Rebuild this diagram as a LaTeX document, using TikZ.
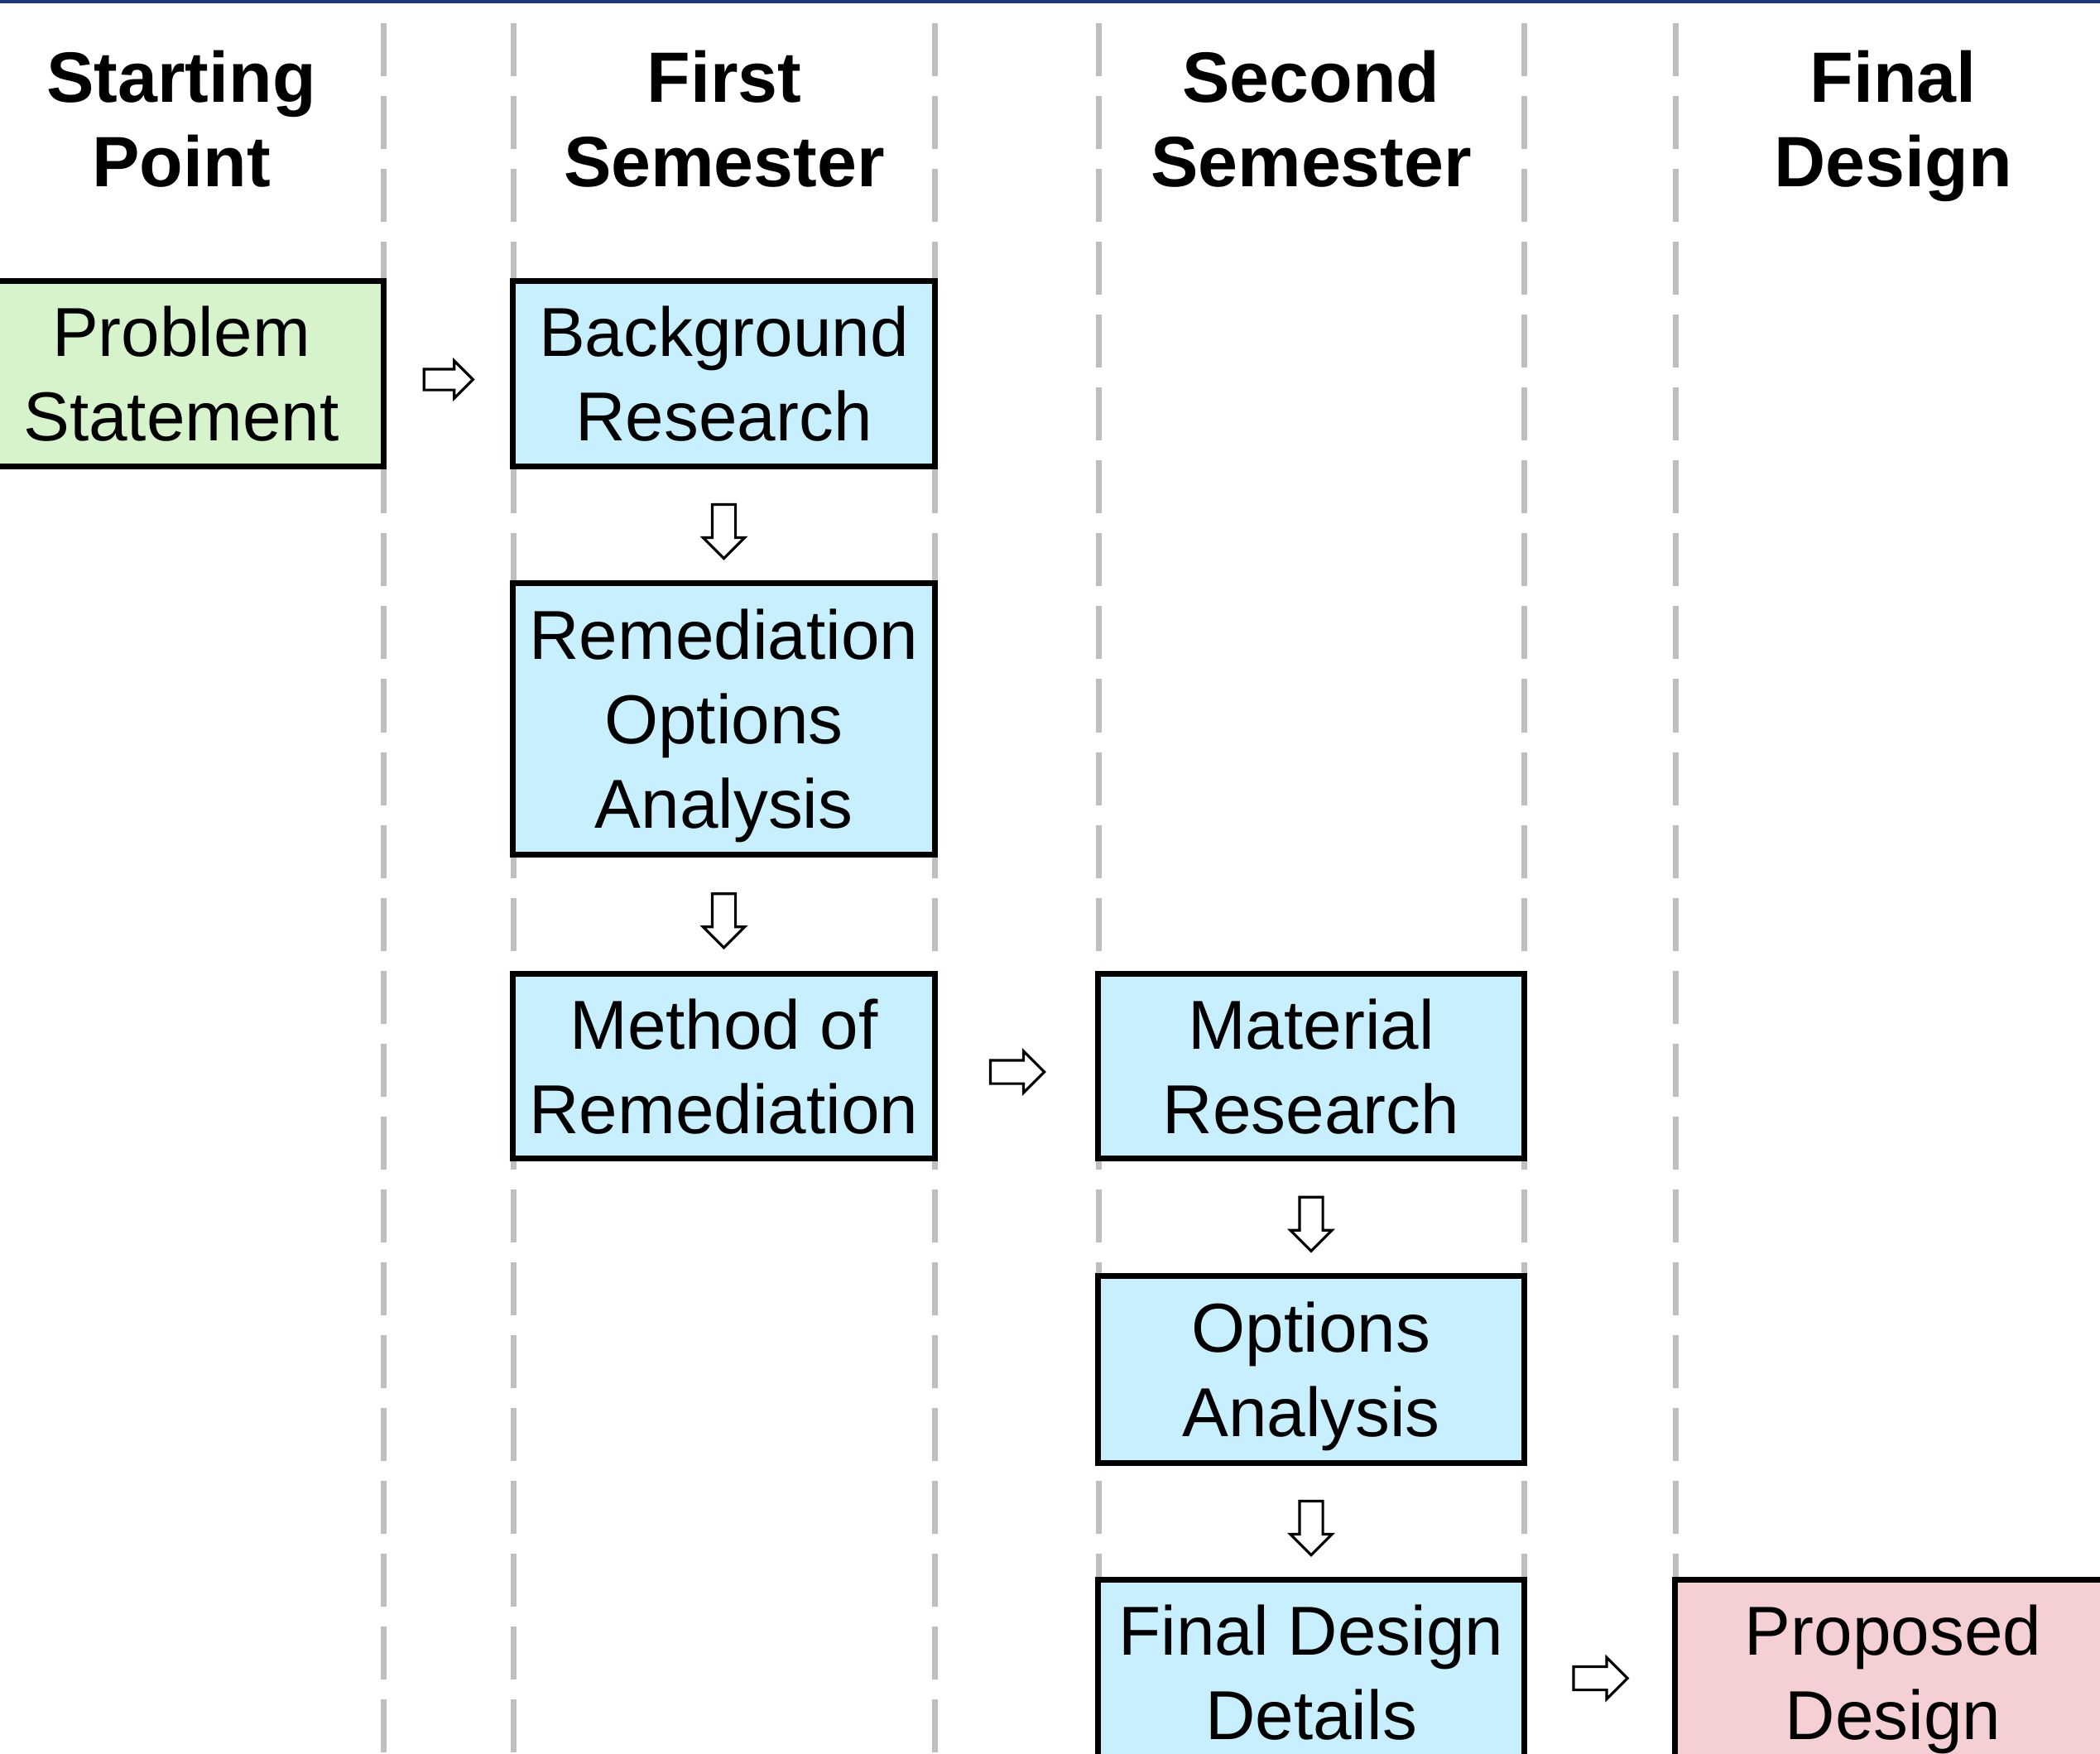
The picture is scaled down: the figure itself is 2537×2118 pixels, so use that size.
\documentclass[tikz,border=0pt]{standalone}
\usepackage{fontspec}
\setmainfont{Liberation Sans}
\usepackage{tikz}
\usetikzlibrary{calc}
\usetikzlibrary{shapes.arrows}
\definecolor{stgreen}{RGB}{214,243,204}
\definecolor{stblue}{RGB}{199,239,253}
\definecolor{stpink}{RGB}{244,208,212}
\definecolor{sepgray}{RGB}{191,191,191}
\definecolor{topblue}{RGB}{31,56,120}
\tikzset{
  stagenode/.style = {align=center, inner sep=0pt, text centered,
    text depth=0pt, font=\fontsize{23.8}{29}\selectfont},
  hdr_n/.style = {stagenode, font=\fontsize{24.5}{29}\selectfont\bfseries},
  box_x/.style = {stagenode, rectangle, draw=black, line width=2pt,
    minimum width=5.09cm, minimum height=2.23cm},% boite de base
  box_g/.style = {box_x, fill=stgreen},% point de depart
  box_b/.style = {box_x, fill=stblue},% semestres
  box_r/.style = {box_x, fill=stpink},% resultat
  sep_l/.style = {draw=sepgray, line width=0.07cm,
    dash pattern=on 0.64cm off 0.24cm},
  arr_x/.style = {single arrow, draw=black, fill=white, line width=0.9pt,
    inner sep=0.125cm, single arrow head extend=0.11cm,
    minimum width=0pt, minimum height=0.65cm},
  arr_r/.style = {arr_x, xshift=-0.06cm, yshift=-0.07cm},
  arr_d/.style = {arr_x, yshift=-0.01cm, rotate=-90}
}

\begin{document}
\begin{tikzpicture}[x=0.01cm, y=-0.01cm]
\useasboundingbox (0,0) rectangle (2537,2118);
\draw[topblue, line width=0.05cm] (0,1) -- (2537,1);
\foreach \x in {463,620,1129,1327,1841,2024}
  \draw[sep_l] (\x,28) -- (\x,2118);
%
\node (h1) [hdr_n] at (219,143) {Starting\\Point};
\node (h2) [hdr_n] at (875,143) {First\\Semester};
\node (h3) [hdr_n] at (1584,143) {Second\\Semester};
\node (h4) [hdr_n] at (2287,143) {Final\\Design};
%
\node (PS) [box_g, minimum width=4.88cm] at (219,451.5) {Problem\\Statement};
\node (BR) [box_b] at (874.5,451.5) {Background\\Research};
\node (ROA) [box_b, minimum height=3.27cm] at (874.5,868.5) {Remediation\\Options\\Analysis};
\node (MR) [box_b] at (874.5,1288) {Method of\\Remediation};
%
\node (MAT) [box_b, minimum width=5.14cm] at (1584,1288) {Material\\Research};
\node (OA) [box_b, minimum width=5.14cm, minimum height=2.25cm] at (1584,1654.5) {Options\\Analysis};
\node (FDD) [box_b, minimum width=5.14cm] at (1584,2020.5) {Final Design\\Details};
%
\node (PD) [box_r, minimum width=5.26cm] at (2287,2020.5) {Proposed\\Design};
%
\node (a1) [arr_r, minimum height=0.59cm, inner sep=0.11cm,
  single arrow head extend=0.1cm] at ($(PS.east)!0.5!(BR.west)$) {};
\node (a2) [arr_d] at ($(BR.south)!0.5!(ROA.north)$) {};
\node (a3) [arr_d] at ($(ROA.south)!0.5!(MR.north)$) {};
\node (a4) [arr_r] at ($(MR.east)!0.5!(MAT.west)$) {};
\node (a5) [arr_d] at ($(MAT.south)!0.5!(OA.north)$) {};
\node (a6) [arr_d] at ($(OA.south)!0.5!(FDD.north)$) {};
\node (a7) [arr_r] at ($(FDD.east)!0.5!(PD.west)$) {};
\end{tikzpicture}
\end{document}
